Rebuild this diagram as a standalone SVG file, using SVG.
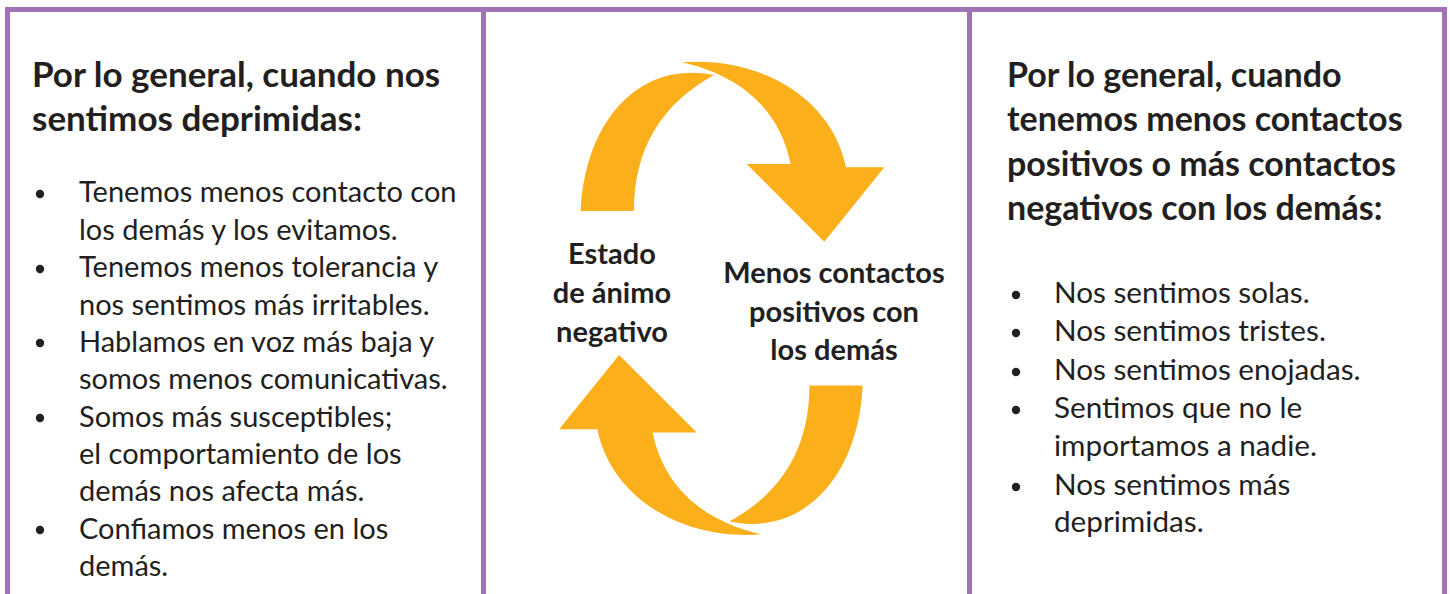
<svg xmlns="http://www.w3.org/2000/svg" xmlns:xlink="http://www.w3.org/1999/xlink" width="1450" height="594" viewBox="0 0 1450 594">
  <style>
    .frame { fill: none; stroke: #a173b5; stroke-width: 5; }
    .title { font-family: Lato, "Liberation Sans", sans-serif; font-weight: 700; font-size: 35px; fill: #231f20; }
    .title-r { font-size: 34px; }
    .body { font-family: Lato, "Liberation Sans", sans-serif; font-size: 29px; fill: #231f20; }
    .body-r { font-size: 29.7px; }
    .label { font-family: Lato, "Liberation Sans", sans-serif; font-weight: 700; font-size: 29px; fill: #231f20; text-anchor: middle; }
    .bullet { fill: #231f20; }
    .arrow { fill: #fbb01b; }
  </style>
  <defs>
    <path id="cycArrow" class="arrow" d="M 580.7 211 L 634 211 C 634 150 660 105 714 75 C 640 60 585 120 580.7 211 Z M 681.7 62.3 C 760 56 832 98 846 167.3 L 884.3 167.3 L 824.3 241.7 L 746.7 164 L 790.7 164 C 780 110 740 75 681.7 62.3 Z"/>
  </defs>
  <rect width="1450" height="594" fill="#ffffff"/>

  <g id="frame">
    <path class="frame" d="M 5 9.5 H 1447 M 7.5 7 V 594 M 483.5 7 V 594 M 969.5 7 V 594 M 1444.5 7 V 594"/>
  </g>

  <g id="connectors">
    <use xlink:href="#cycArrow"/>
    <use xlink:href="#cycArrow" transform="rotate(180 721.7 298.3)"/>
  </g>

  <g id="left-panel">
    <text class="title" x="32" y="87">Por lo general, cuando nos</text>
    <text class="title" x="32" y="131">sentimos deprimidas:</text>
    <g class="bullet">
      <circle cx="40" cy="194" r="4.2"/>
      <circle cx="40" cy="269" r="4.2"/>
      <circle cx="40" cy="343" r="4.2"/>
      <circle cx="40" cy="418" r="4.2"/>
      <circle cx="40" cy="530" r="4.2"/>
    </g>
    <text class="body" x="79" y="202">Tenemos menos contacto con</text>
    <text class="body" x="79" y="239.5">los demás y los evitamos.</text>
    <text class="body" x="79" y="277">Tenemos menos tolerancia y</text>
    <text class="body" x="79" y="314.5">nos sentimos más irritables.</text>
    <text class="body" x="79" y="352">Hablamos en voz más baja y</text>
    <text class="body" x="79" y="389">somos menos comunicativas.</text>
    <text class="body" x="79" y="426.5">Somos más susceptibles;</text>
    <text class="body" x="79" y="463.5">el comportamiento de los</text>
    <text class="body" x="79" y="501">demás nos afecta más.</text>
    <text class="body" x="79" y="538.5">Confiamos menos en los</text>
    <text class="body" x="79" y="575.5">demás.</text>
  </g>

  <g id="node-estado">
    <text class="label" x="612" y="264">Estado</text>
    <text class="label" x="612" y="303">de ánimo</text>
    <text class="label" x="612" y="342">negativo</text>
  </g>

  <g id="node-menos">
    <text class="label" x="834" y="283">Menos contactos</text>
    <text class="label" x="834" y="322">positivos con</text>
    <text class="label" x="834" y="360">los demás</text>
  </g>

  <g id="right-panel">
    <text class="title title-r" x="1007" y="87">Por lo general, cuando</text>
    <text class="title title-r" x="1007" y="131">tenemos menos contactos</text>
    <text class="title title-r" x="1007" y="176">positivos o más contactos</text>
    <text class="title title-r" x="1007" y="220">negativos con los demás:</text>
    <g class="bullet">
      <circle cx="1016" cy="295" r="4.2"/>
      <circle cx="1016" cy="333" r="4.2"/>
      <circle cx="1016" cy="372" r="4.2"/>
      <circle cx="1016" cy="410" r="4.2"/>
      <circle cx="1016" cy="487" r="4.2"/>
    </g>
    <text class="body body-r" x="1054" y="303">Nos sentimos solas.</text>
    <text class="body body-r" x="1054" y="341">Nos sentimos tristes.</text>
    <text class="body body-r" x="1054" y="380">Nos sentimos enojadas.</text>
    <text class="body body-r" x="1054" y="418">Sentimos que no le</text>
    <text class="body body-r" x="1054" y="456">importamos a nadie.</text>
    <text class="body body-r" x="1054" y="495">Nos sentimos más</text>
    <text class="body body-r" x="1054" y="532">deprimidas.</text>
  </g>
</svg>
